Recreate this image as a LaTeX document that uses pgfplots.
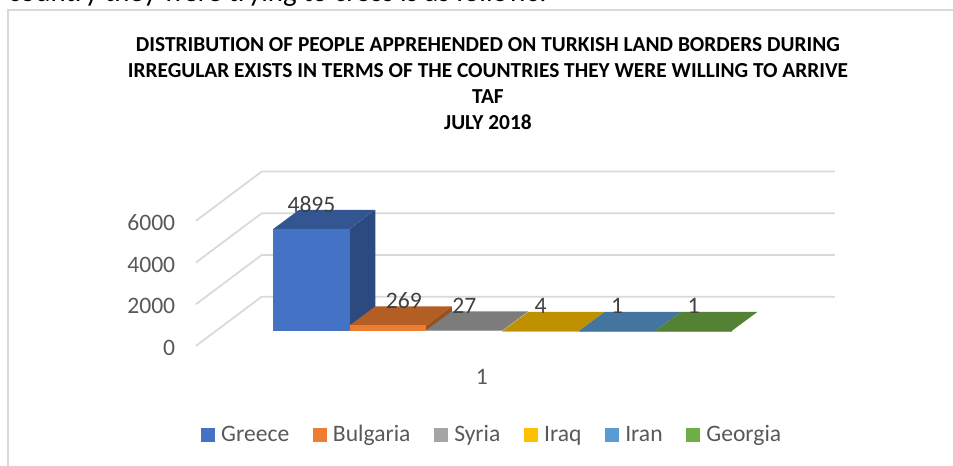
\documentclass[border=0pt]{standalone}
\usepackage{pgfplots}
\pgfplotsset{compat=1.18}
\usepackage{fontspec}
\setmainfont{Carlito}
\definecolor{tickgray}{HTML}{595959}
\definecolor{labgray}{HTML}{404040}
\definecolor{gridgray}{HTML}{D9D9D9}
\definecolor{cGreece}{HTML}{4472C4}
\definecolor{cBulgaria}{HTML}{ED7D31}
\definecolor{cSyria}{HTML}{A5A5A5}
\definecolor{cIraq}{HTML}{FFC000}
\definecolor{cIran}{HTML}{5B9BD5}
\definecolor{cGeorgia}{HTML}{70AD47}
\pgfplotsset{
  front/.style={ybar, bar shift=0pt, bar width=1, fill=#1, draw=none,
    area legend,
    legend image code/.code={\fill[#1] (0pt,-5.2pt) rectangle (10.5pt,5.2pt); \path (13pt,0pt);},
    nodes near coords},
  face/.style={fill=#1, draw=none, no marks, sharp plot, forget plot},
  grid3d/.style={gridgray, line width=1.3pt, no marks, sharp plot, forget plot},
}
\begin{document}
\begin{tikzpicture}
\begin{axis}[
  scale only axis,
  width=479.25pt, height=130.5pt,
  xmin=-1.513, xmax=6.85, ymin=-719, ymax=7626,
  clip=false,
  axis line style={draw=none},
  tick style={draw=none},
  major tick length=0pt,
  ytick={0,2000,4000,6000},
  xtick={2.23}, xticklabels={1},
  scaled ticks=false,
  /pgf/number format/assume math mode=true,
  /pgf/number format/1000 sep={},
  tick label style={font=\fontsize{17.7}{20}\selectfont, text=tickgray},
  y tick label style={yshift=-12.75pt, xshift=-12pt},
  x tick label style={yshift=-14pt},
  every node near coord/.append style={font=\fontsize{17.7}{20}\selectfont, text=labgray, anchor=center, yshift=18.5pt},
  legend columns=6,
  legend cell align=left,
  legend style={draw=none, fill=none, at={(axis cs:2.37,-4970)}, anchor=center,
    font=\fontsize{17.7}{20}\selectfont\color{tickgray},
    /tikz/every even column/.append style={column sep=15.8pt}},
]
% walls
\addplot[grid3d] coordinates {(-1.513,-719) (-0.652,1645) (6.85,1645)};
\addplot[grid3d] coordinates {(-1.513,1281) (-0.652,3645) (6.85,3645)};
\addplot[grid3d] coordinates {(-1.513,3281) (-0.652,5645) (6.85,5645)};
\addplot[grid3d] coordinates {(-1.513,5281) (-0.652,7645) (6.85,7645)};
% side and top faces
\addplot[face=cGreece!65!black] coordinates {(0.5,0) (0.836,911) (0.836,5806) (0.5,4895)} -- cycle;
\addplot[face=cGreece!75!black] coordinates {(-0.5,4895) (0.5,4895) (0.836,5806) (-0.164,5806)} -- cycle;
\addplot[face=cBulgaria!65!black] coordinates {(1.5,0) (1.836,911) (1.836,1180) (1.5,269)} -- cycle;
\addplot[face=cBulgaria!75!black] coordinates {(0.5,269) (1.5,269) (1.836,1180) (0.836,1180)} -- cycle;
\addplot[face=cSyria!75!black] coordinates {(1.5,27) (2.5,27) (2.836,938) (1.836,938)} -- cycle;
\addplot[face=cIraq!75!black] coordinates {(2.5,4) (3.5,4) (3.836,915) (2.836,915)} -- cycle;
\addplot[face=cIran!75!black] coordinates {(3.5,1) (4.5,1) (4.836,912) (3.836,912)} -- cycle;
\addplot[face=cGeorgia!75!black] coordinates {(4.5,1) (5.5,1) (5.836,912) (4.836,912)} -- cycle;
% front faces, with the labels
\addplot[front=cGreece] coordinates {(0,4895)};
\addplot[front=cBulgaria, every node near coord/.append style={xshift=12pt}] coordinates {(1,269)};
\addplot[front=cSyria] coordinates {(2,27)};
\addplot[front=cIraq] coordinates {(3,4)};
\addplot[front=cIran] coordinates {(4,1)};
\addplot[front=cGeorgia] coordinates {(5,1)};
\legend{Greece\hspace{7pt}, Bulgaria, Syria, Iraq, Iran, Georgia}
\coordinate (tl) at (axis cs:-4.077,15875);
\coordinate (br) at (axis cs:8.397,-6475);
\end{axis}
% page frame in reference pixels (0.75pt each), from the top left corner
\begin{scope}[shift={(tl)}, x=0.75pt, y=-0.75pt]
  \draw[gridgray, line width=0.9pt] (8,466) -- (8,10) -- (953,10);
  \node[anchor=center, align=center, font=\fontsize{16.03}{19.5}\selectfont\bfseries, text=black] at (488,83.5)
    {DISTRIBUTION OF PEOPLE APPREHENDED ON TURKISH LAND BORDERS DURING\\
     IRREGULAR EXISTS IN TERMS OF THE COUNTRIES THEY WERE WILLING TO ARRIVE\\
     TAF\\
     JULY 2018};
  \node[anchor=base west, inner sep=0pt, font=\fontsize{21.6}{24}\selectfont, text=black] at (8,1.5)
    {country they were trying to cross is as follows:};
\end{scope}
\pgfresetboundingbox
\path[use as bounding box] (tl) rectangle (br);
\end{tikzpicture}
\end{document}
